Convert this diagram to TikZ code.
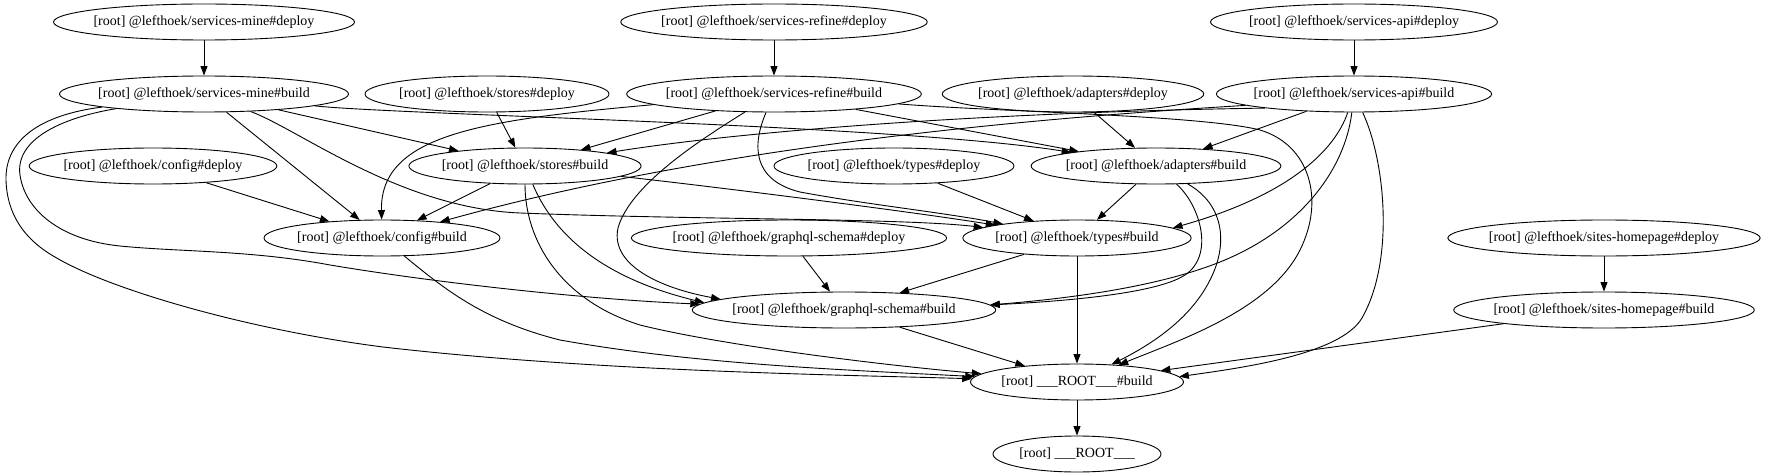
\documentclass[tikz,border=0pt]{standalone}
\usepackage{fontspec}
\setmainfont{Liberation Serif}
\usetikzlibrary{shapes.geometric,arrows.meta}
\begin{document}
\begin{tikzpicture}[x=1pt,y=-1pt,
  nd/.style={draw, ellipse, line width=0.9pt, minimum height=36pt, inner xsep=-20pt, inner ysep=0pt, minimum width=#1, font=\fontsize{14}{16}\selectfont},
  dep/.style={draw, line width=0.9pt, -{Triangle[length=9.5pt,width=7pt]}}]
\useasboundingbox (0,0) rectangle (1765,476);
% row 1
\node[nd=301pt] (smd) at (204,22) {[root] @lefthoek/services-mine\#deploy};
\node[nd=306.5pt] (srd) at (774,22) {[root] @lefthoek/services-refine\#deploy};
\node[nd=287pt] (sad) at (1354,22) {[root] @lefthoek/services-api\#deploy};
% row 2
\node[nd=289pt] (smb) at (204,94) {[root] @lefthoek/services-mine\#build};
\node[nd=244pt] (std) at (487,94) {[root] @lefthoek/stores\#deploy};
\node[nd=294.7pt] (srb) at (774,94) {[root] @lefthoek/services-refine\#build};
\node[nd=261.5pt] (add) at (1073,94) {[root] @lefthoek/adapters\#deploy};
\node[nd=275.2pt] (sab) at (1354,94) {[root] @lefthoek/services-api\#build};
% row 3
\node[nd=247.7pt] (cfd) at (153,166) {[root] @lefthoek/config\#deploy};
\node[nd=232.2pt] (stb) at (525,166) {[root] @lefthoek/stores\#build};
\node[nd=240pt] (tyd) at (894,166) {[root] @lefthoek/types\#deploy};
\node[nd=249.8pt] (adb) at (1156,166) {[root] @lefthoek/adapters\#build};
% row 4
\node[nd=236pt] (cfb) at (382,238) {[root] @lefthoek/config\#build};
\node[nd=315.3pt] (gsd) at (789,238) {[root] @lefthoek/graphql-schema\#deploy};
\node[nd=228.3pt] (tyb) at (1077,238) {[root] @lefthoek/types\#build};
\node[nd=312.3pt] (shd) at (1604,238) {[root] @lefthoek/sites-homepage\#deploy};
% row 5
\node[nd=303.5pt] (gsb) at (844,310) {[root] @lefthoek/graphql-schema\#build};
\node[nd=300.6pt] (shb) at (1604,310) {[root] @lefthoek/sites-homepage\#build};
% row 6, 7
\node[nd=213pt] (rb) at (1077,382) {[root] \_\_\_ROOT\_\_\_\#build};
\node[nd=168pt] (r) at (1077,454) {[root] \_\_\_ROOT\_\_\_};

% deploy -> build
\draw[dep] (smd) -- (smb);
\draw[dep] (srd) -- (srb);
\draw[dep] (sad) -- (sab);
\draw[dep] (shd) -- (shb);
\draw[dep] (rb) -- (r);
\draw[dep] (std) -- (stb);
\draw[dep] (add) -- (adb);
\draw[dep] (cfd) -- (cfb);
\draw[dep] (tyd) -- (tyb);
\draw[dep] (gsd) -- (gsb);

% services-mine#build
\draw[dep] (smb.-12) -- (stb);
\draw[dep] (smb) -- (cfb);
\draw[dep] (smb) .. controls (400,115) and (900,125) .. (adb);
\draw[dep] (smb) .. controls (300,130) and (400,208) .. (520,213) .. controls (700,220) and (900,218) .. (tyb);
\draw[dep] (smb) .. controls (60,118) and (15,140) .. (20,175) .. controls (25,210) and (60,240) .. (120,246) .. controls (180,252) and (250,250) .. (330,265) .. controls (450,285) and (600,300) .. (gsb);
\draw[dep] (smb) .. controls (40,115) and (5,140) .. (6,180) .. controls (7,215) and (25,240) .. (55,257) .. controls (110,290) and (250,330) .. (383,347) .. controls (600,372) and (850,375) .. (rb);

% services-refine#build
\draw[dep] (srb) .. controls (480,120) and (380,135) .. (cfb);
\draw[dep] (srb) -- (stb);
\draw[dep] (srb) .. controls (700,140) and (630,185) .. (618,228) .. controls (610,265) and (660,288) .. (gsb.175);
\draw[dep] (srb) .. controls (752,145) and (752,180) .. (800,192) .. controls (870,205) and (940,212) .. (tyb);
\draw[dep] (srb) -- (adb);
\draw[dep] (srb) .. controls (1000,112) and (1200,115) .. (1260,130) .. controls (1310,145) and (1325,200) .. (1300,250) .. controls (1270,310) and (1180,340) .. (rb);

% services-api#build
\draw[dep] (sab.189) .. controls (1000,112) and (750,130) .. (stb);
\draw[dep] (sab.186) .. controls (1000,120) and (700,150) .. (cfb);
\draw[dep] (sab) -- (adb);
\draw[dep] (sab) .. controls (1335,150) and (1290,195) .. (tyb.6);
\draw[dep] (sab) .. controls (1345,170) and (1300,230) .. (1220,262) .. controls (1150,290) and (1050,300) .. (gsb.2);
\draw[dep] (sab) .. controls (1385,160) and (1395,260) .. (1362,318) .. controls (1340,355) and (1240,368) .. (rb.3);

% stores#build
\draw[dep] (stb) -- (cfb);
\draw[dep] (stb) .. controls (700,185) and (900,210) .. (tyb);
\draw[dep] (stb) .. controls (550,225) and (590,275) .. (gsb.177);
\draw[dep] (stb) .. controls (525,240) and (560,300) .. (640,325) .. controls (720,345) and (880,365) .. (rb);

% adapters#build
\draw[dep] (adb) -- (tyb);
\draw[dep] (adb) .. controls (1200,205) and (1215,255) .. (1185,275) .. controls (1155,295) and (1050,302) .. (gsb.2);
\draw[dep] (adb) .. controls (1225,205) and (1228,245) .. (1210,280) .. controls (1190,320) and (1150,345) .. (rb);

% remaining
\draw[dep] (cfb) .. controls (440,285) and (480,320) .. (560,340) .. controls (700,365) and (850,370) .. (rb);
\draw[dep] (tyb) -- (gsb);
\draw[dep] (tyb) -- (rb);
\draw[dep] (gsb) -- (rb);
\draw[dep] (shb) -- (rb);
\end{tikzpicture}
\end{document}
